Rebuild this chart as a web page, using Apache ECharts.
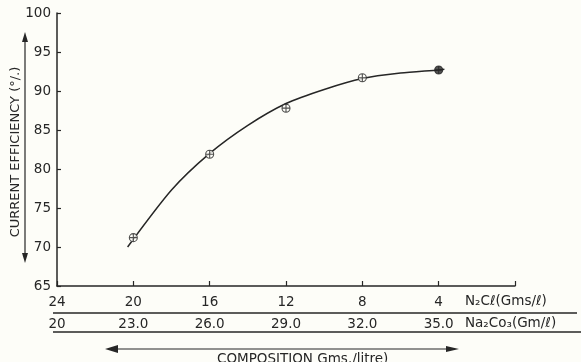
<!DOCTYPE html>
<html>
<head>
<meta charset="utf-8">
<script src="https://cdn.jsdelivr.net/npm/echarts@6/dist/echarts.min.js"></script>
<style>
html,body{margin:0;padding:0;background:#fdfdf8;}
#c{width:581px;height:362px;}
</style>
</head>
<body>
<div id="c"></div>
<script>
// Tick labels (top row: NaCl, bottom row: Na2CO3)
const naclTicks = [24, 20, 16, 12, 8, 4];
const na2co3Labels = ['20', '23.0', '26.0', '29.0', '32.0', '35.0'];
// Measured points
const naclValues = [20, 16, 12, 8, 4];
const efficiency = [71.2, 81.9, 87.8, 91.7, 92.7];
// Fitted curve
const curveX = [20.3, 18, 16, 14, 12, 10, 8, 6, 4, 3.7];
const curveY = [70.0, 77.3, 82.0, 85.6, 88.4, 90.2, 91.6, 92.3, 92.7, 92.8];

const ink = '#262626';
const font = 'DejaVu Sans';

const chart = echarts.init(document.getElementById('c'), null, {renderer: 'canvas'});
chart.setOption({
  backgroundColor: '#fdfdf8',
  animation: false,
  grid: {left: 57, right: 66, top: 13, bottom: 76, containLabel: false},
  xAxis: [{
    type: 'value', min: 0, max: 24, interval: 4, inverse: true,
    position: 'bottom',
    axisLine: {show: true, onZero: false, lineStyle: {color: ink, width: 1.5}},
    axisTick: {show: true, inside: true, length: 5, lineStyle: {color: ink, width: 1.2}},
    splitLine: {show: false},
    axisLabel: {
      margin: 9, color: ink, fontFamily: font, fontSize: 13.5,
      formatter: v => naclTicks.indexOf(v) >= 0 ? String(v) : ''
    }
  }, {
    type: 'value', min: 0, max: 24, interval: 4, inverse: true,
    position: 'bottom', offset: 0,
    axisLine: {show: false, onZero: false}, axisTick: {show: false}, splitLine: {show: false},
    axisLabel: {
      margin: 31, color: ink, fontFamily: font, fontSize: 13.5,
      formatter: v => { const i = naclTicks.indexOf(v); return i >= 0 ? na2co3Labels[i] : ''; }
    }
  }],
  yAxis: {
    type: 'value', min: 65, max: 100, interval: 5, position: 'left',
    axisLine: {show: true, onZero: false, lineStyle: {color: ink, width: 1.5}},
    axisTick: {show: true, inside: true, length: 4, lineStyle: {color: ink, width: 1.2}},
    splitLine: {show: false},
    axisLabel: {margin: 6, color: ink, fontFamily: font, fontSize: 13.5}
  },
  series: [{
    type: 'line',
    data: curveX.map((x, i) => [x, curveY[i]]),
    smooth: 0.25,
    showSymbol: false,
    lineStyle: {color: ink, width: 1.5},
    z: 2
  }, {
    type: 'scatter',
    data: naclValues.map((x, i) => {
      const d = {value: [x, efficiency[i]]};
      if (i === naclValues.length - 1) d.itemStyle = {color: ink};
      return d;
    }),
    symbol: 'path://M10,0A10,10 0 1,1 10,20A10,10 0 1,1 10,0ZM0,10L20,10M10,0L10,20',
    symbolSize: 8,
    itemStyle: {color: '#fdfdf8', borderColor: ink, borderWidth: 1.1},
    z: 3
  }],
  graphic: [
    // row separator lines
    {type: 'line', shape: {x1: 53, y1: 313, x2: 577, y2: 313}, style: {stroke: ink, lineWidth: 1.3}},
    {type: 'line', shape: {x1: 53, y1: 332, x2: 581, y2: 332}, style: {stroke: ink, lineWidth: 1.3}},
    // unit labels
    {type: 'text', left: 465, top: 294, style: {text: 'N₂Cℓ(Gms/ℓ)', fill: ink, font: '13.5px "DejaVu Sans"'}},
    {type: 'text', left: 465, top: 316, style: {text: 'Na₂Co₃(Gm/ℓ)', fill: ink, font: '13.5px "DejaVu Sans"'}},
    // bottom double arrow
    {type: 'line', shape: {x1: 110, y1: 349, x2: 455, y2: 349}, style: {stroke: ink, lineWidth: 1.2}},
    {type: 'polygon', shape: {points: [[105, 349], [118, 345], [118, 353]]}, style: {fill: ink}},
    {type: 'polygon', shape: {points: [[459, 349], [446, 346], [446, 352]]}, style: {fill: ink}},
    {type: 'text', left: 217, top: 352, style: {text: 'COMPOSITION Gms./litre)', fill: ink, font: '13.5px "DejaVu Sans"'}},
    // y axis title and vertical double arrow
    {type: 'text', x: 16, y: 152, rotation: Math.PI / 2,
     style: {text: 'CURRENT EFFICIENCY (°/.)', fill: ink, font: '13px "DejaVu Sans"', textAlign: 'center', textVerticalAlign: 'middle'}},
    {type: 'line', shape: {x1: 25, y1: 36, x2: 25, y2: 259}, style: {stroke: ink, lineWidth: 1.2}},
    {type: 'polygon', shape: {points: [[25, 32], [22, 42], [28, 42]]}, style: {fill: ink}},
    {type: 'polygon', shape: {points: [[25, 263], [22, 253], [28, 253]]}, style: {fill: ink}}
  ]
});
</script>
</body>
</html>
